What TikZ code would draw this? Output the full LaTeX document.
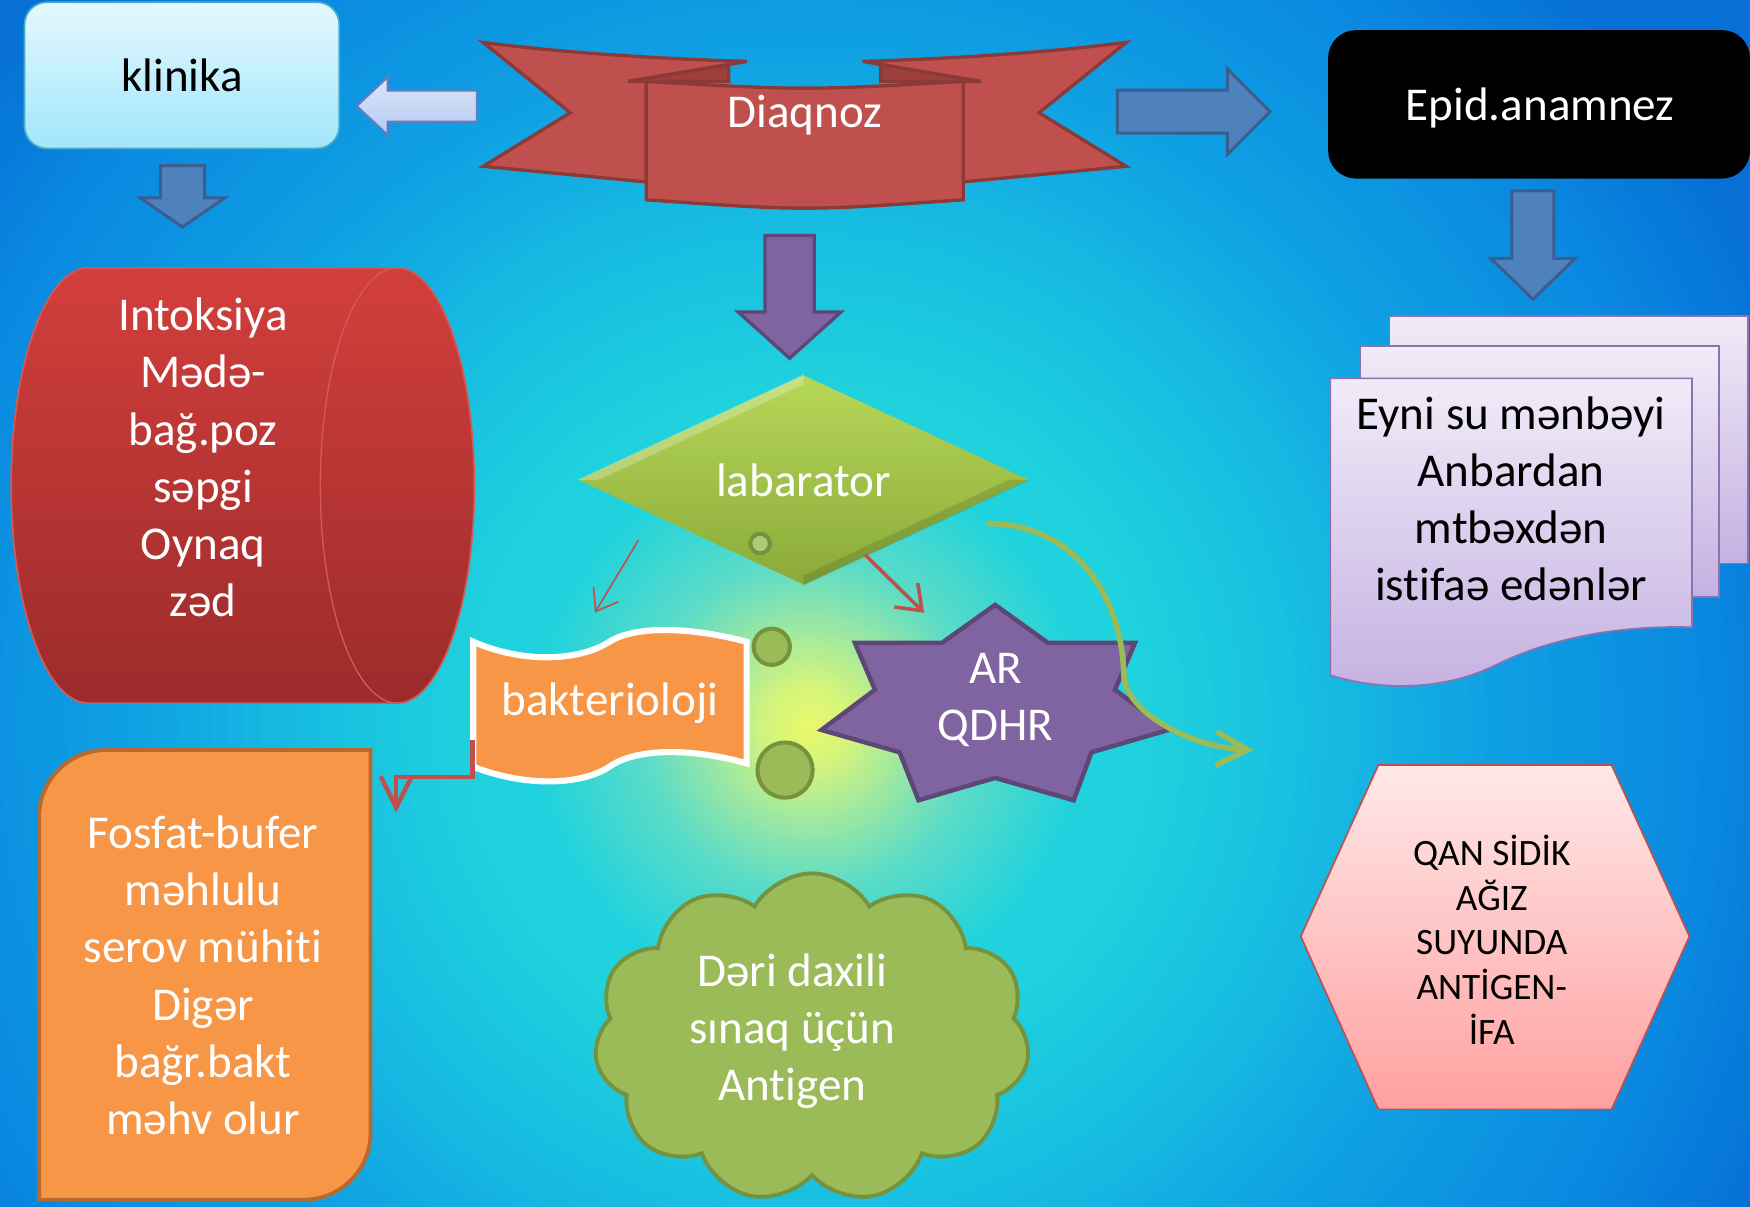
\documentclass[tikz,border=0pt]{standalone}
\usepackage{fontspec}
\setmainfont{Carlito}[Ligatures=NoCommon]
\usetikzlibrary{shapes.geometric,shapes.arrows,shapes.symbols,arrows.meta}

\definecolor{glowA}{HTML}{ECF86A}
\definecolor{glowB}{HTML}{D3F47C}
\definecolor{glowC}{HTML}{A2E99E}
\definecolor{glowD}{HTML}{5CDCC6}
\definecolor{bgCyan}{HTML}{20D2DD}
\definecolor{bgCyanB}{HTML}{18BEE1}
\definecolor{bgBlue}{HTML}{0FA0E3}
\definecolor{bgBlueB}{HTML}{0A8AE0}
\definecolor{bgDeep}{HTML}{0670D6}
\definecolor{klinikaTop}{HTML}{E4F8FE}
\definecolor{klinikaBot}{HTML}{A2E6FB}
\definecolor{klinikaLine}{HTML}{4BACC6}
\definecolor{arrowBlue}{HTML}{4F81BD}
\definecolor{arrowLine}{HTML}{3A5F8E}
\definecolor{lightTop}{HTML}{DCE6FA}
\definecolor{lightBot}{HTML}{B6C9F2}
\definecolor{lightLine}{HTML}{5B7FC4}
\definecolor{bannerRed}{HTML}{C0504D}
\definecolor{bannerLine}{HTML}{8C3A38}
\definecolor{bannerFold}{HTML}{9E3F3C}
\definecolor{violet}{HTML}{8064A2}
\definecolor{violetLine}{HTML}{5C4776}
\definecolor{cylTop}{HTML}{D23F3C}
\definecolor{cylBot}{HTML}{9C2B2B}
\definecolor{cylLine}{HTML}{D45A57}
\definecolor{orangeFill}{HTML}{F79646}
\definecolor{orangeLine}{HTML}{B7692E}
\definecolor{leafGreen}{HTML}{9BBB59}
\definecolor{leafLine}{HTML}{76923C}
\definecolor{diaTop}{HTML}{B6D858}
\definecolor{diaBot}{HTML}{8BAA3A}
\definecolor{docTop}{HTML}{F0EBF8}
\definecolor{docBot}{HTML}{C5B1E2}
\definecolor{docLine}{HTML}{8E72B0}
\definecolor{hexTop}{HTML}{FFE8E8}
\definecolor{hexBot}{HTML}{FFA0A0}
\definecolor{redLine}{HTML}{C0504D}

\newcommand{\mainsize}{\fontsize{12pt}{14.6pt}\selectfont}
\newcommand{\hexsize}{\fontsize{9.5pt}{11.4pt}\selectfont}

\tikzstyle{whitetext} = [text=white, align=center, inner sep=0pt, font=\mainsize]
\tikzstyle{blacktext} = [text=black, align=center, inner sep=0pt, font=\mainsize]
\tikzstyle{roundbox} = [
        rectangle,
        rounded corners=2.5mm,
        inner sep=0pt,
        align=center,
        font=\mainsize
    ]
\tikzstyle{blockarrow} = [
        single arrow,
        anchor=tip,
        inner xsep=0pt,
        inner ysep=0pt,
        text height=0pt,
        text depth=0pt,
        line width=0.27mm,
        draw=arrowLine,
        fill=arrowBlue
    ]
\tikzstyle{greendot} = [circle, inner sep=0pt, fill=leafGreen, draw=leafLine, line width=0.36mm]
\tikzstyle{thinarrow} = [draw=redLine, line width=0.15mm, -{Straight Barb[length=1.8mm, width=2.6mm]}]
\tikzstyle{redarrow} = [draw=redLine, line width=0.32mm, -{Straight Barb[length=2mm, width=3mm]}]
\tikzstyle{elbowarrow} = [draw=redLine, line width=0.4mm, -{Straight Barb[length=2.8mm, width=2.8mm]}]
\tikzstyle{greenarrow} = [draw=leafGreen, line width=0.5mm, -{Straight Barb[length=2.8mm, width=3mm]}]

\begin{document}
\begin{tikzpicture}[x=0.1mm, y=-0.1mm]

    \useasboundingbox (0,0) rectangle (1568,1081);
    % background: blue edges, cyan middle, yellow glow
    \begin{scope}
        \clip (0,0) rectangle (1568,1081);
        \foreach \ra/\rb/\ca/\cb in {1400/950/bgDeep/bgDeep, 950/800/bgDeep/bgBlueB, 800/620/bgBlueB/bgBlue, 620/450/bgBlue/bgCyanB, 450/300/bgCyanB/bgCyan, 300/250/bgCyan/bgCyan, 250/150/bgCyan/glowD, 150/85/glowD/glowC, 85/40/glowC/glowB, 40/0/glowB/glowA}{
            \foreach \k in {0,...,11}{
                \pgfmathsetmacro{\rr}{\ra-(\ra-\rb)*\k/12}
                \pgfmathtruncatemacro{\pp}{100*\k/12}
                \fill [\cb!\pp!\ca] (725,650) circle (\rr);
            }
        }
    \end{scope}

    % top row
    \node [roundbox, rounded corners=2mm, top color=klinikaTop, bottom color=klinikaBot, draw=klinikaLine, line width=0.15mm, minimum width=2.82cm, minimum height=1.31cm] (klinika) at (163,67.5) {klinika};
    \node [roundbox, fill=black, text=white, minimum width=3.78cm, minimum height=1.33cm] (epid) at (1379,93.5) {};
    \node [whitetext] (epidText) at (1380,97) {Epid.anamnez};

    \path [fill=bannerRed, draw=bannerLine, line width=0.3mm] (433,38) .. controls (510,48) and (600,53) .. (669,55) -- (563,73) -- (579,73) -- (579,163) -- (433,149) -- (511,101) -- cycle;
    \path [fill=bannerRed, draw=bannerLine, line width=0.3mm] (1009,38) .. controls (932,48) and (842,53) .. (773,55) -- (879,73) -- (863,73) -- (863,163) -- (1009,149) -- (931,101) -- cycle;
    \path [fill=bannerFold, draw=bannerLine, line width=0.3mm] (563,73) -- (653,58) -- (653,73) -- cycle;
    \path [fill=bannerFold, draw=bannerLine, line width=0.3mm] (879,73) -- (789,58) -- (789,73) -- cycle;
    \path [fill=bannerRed, draw=bannerLine, line width=0.3mm] (579,73) .. controls (721,81) .. (863,73) -- (863,179) .. controls (721,189) .. (579,179) -- cycle;
    \node [whitetext] (diaqnoz) at (721,103) {Diaqnoz};

    \node [blockarrow, top color=lightTop, bottom color=lightBot, draw=lightLine, line width=0.2mm, shape border rotate=180, minimum height=1.08cm, inner ysep=1.3mm, single arrow head extend=1.2mm, single arrow tip angle=86] (toKlinika) at (318,95) {};
    \node [blockarrow, shape border rotate=0, minimum height=1.37cm, inner ysep=1.8mm, single arrow head extend=1.9mm, single arrow tip angle=90] (toEpid) at (1140,100) {};
    \node [blockarrow, shape border rotate=270, minimum height=0.55cm, inner xsep=1.85mm, single arrow head extend=1.8mm, single arrow tip angle=111] (klinikaDown) at (163.5,205) {};
    \node [blockarrow, shape border rotate=270, minimum height=0.97cm, inner xsep=1.75mm, single arrow head extend=1.9mm, single arrow tip angle=92] (epidDown) at (1373.5,270) {};
    \node [blockarrow, fill=violet, draw=violetLine, line width=0.3mm, shape border rotate=270, minimum height=1.10cm, inner xsep=2.05mm, single arrow head extend=2.4mm, single arrow tip angle=96] (diaqnozDown) at (707.5,323) {};

    % left column
    \path [top color=cylTop, bottom color=cylBot, draw=cylLine, line width=0.15mm] (79,240) -- (356,240) arc [start angle=-90, end angle=90, x radius=69, y radius=195] -- (79,630) arc [start angle=90, end angle=270, x radius=69, y radius=195] -- cycle;
    \draw [cylLine, line width=0.12mm] (356,240) arc [start angle=270, end angle=90, x radius=69, y radius=195];
    \node [whitetext] (intox) at (182,410) {Intoksiya\\Mədə-\\bağ.poz\\səpgi\\Oynaq\\zəd};

    \path [fill=orangeFill, draw=orangeLine, line width=0.35mm] (35,1075) -- (35,732) arc [start angle=180, end angle=270, radius=60] -- (332,672) -- (332,1015) arc [start angle=0, end angle=90, radius=60] -- cycle;
    \node [whitetext] (fosfat) at (182,874) {Fosfat-bufer\\məhlulu\\serov mühiti\\Digər\\bağr.bakt\\məhv olur};

    % middle column
    \node [diamond, aspect=2, inner sep=0pt, minimum width=4.04cm, minimum height=1.88cm, top color=diaTop, bottom color=diaBot, text=white, font=\mainsize] (lab) at (720,430) {labarator};
    \path [fill=white, opacity=0.25] (lab.west) -- (lab.north) -- ([yshift=-0.9mm]lab.north) -- ([xshift=1.9mm]lab.west) -- cycle;
    \path [fill=black, opacity=0.12] (lab.east) -- (lab.south) -- ([yshift=0.9mm]lab.south) -- ([xshift=-1.9mm]lab.east) -- cycle;
    \node [greendot, fill=leafGreen!80!white, minimum size=1.75mm] (ring) at (681,487) {};

    \path [fill=orangeFill, draw=white, line width=0.55mm] (424,575) .. controls (470,595) and (520,592) .. (546,575) .. controls (570,560) and (620,562) .. (669,575) -- (669,684) .. controls (620,670) and (570,670) .. (546,687) .. controls (520,704) and (470,705) .. (424,687) -- cycle;
    \node [whitetext, minimum width=2.45cm, minimum height=1.12cm] (bakt) at (546.5,630) {bakterioloji};

    \node [greendot, minimum size=3.25mm] (dotSmall) at (691.5,579.5) {};
    \node [greendot, minimum size=4.95mm] (dotBig) at (703.4,690) {};

    \path [fill=violet, draw=violetLine, line width=0.4mm] (891.6,542) -- (939,576) -- (1017,576) -- (999,618) -- (1047,654) -- (978,674) -- (962,717) -- (891.6,697) -- (823,717) -- (806,674) -- (736,654) -- (784,618) -- (766,576) -- (844,576) -- cycle;
    \node [whitetext] (ar) at (892,627) {AR\\QDHR};

    \node [cloud, cloud puffs=11, cloud puff arc=120, aspect=1.3, inner sep=0pt, minimum width=3.9cm, minimum height=2.95cm, fill=leafGreen, draw=leafLine, line width=0.35mm] (cloud) at (727.5,930) {};
    \node [whitetext] (antigen) at (710,924) {Dəri daxili\\sınaq üçün\\Antigen};

    % right column
    \path [top color=docTop, bottom color=docBot, draw=docLine, line width=0.15mm] (1245,283) rectangle (1566,505);
    \path [top color=docTop, bottom color=docBot, draw=docLine, line width=0.15mm] (1219,310) rectangle (1540,535);
    \path [top color=docTop, bottom color=docBot, draw=docLine, line width=0.15mm] (1192,339) -- (1516,339) -- (1516,562) .. controls (1450,560) and (1390,572) .. (1344,594) .. controls (1290,622) and (1230,617) .. (1192,605) -- cycle;
    \node [blacktext] (eyni) at (1354,447) {Eyni su mənbəyi\\Anbardan\\mtbəxdən\\istifaə edənlər};

    \path [top color=hexTop, bottom color=hexBot, draw=redLine, line width=0.15mm] (1235,685.5) -- (1444,685.5) -- (1513.7,839) -- (1444,994) -- (1235,994) -- (1165.5,839) -- cycle;
    \node [blacktext, font=\hexsize] (qan) at (1336.6,842) {QAN SİDİK\\AĞIZ\\SUYUNDA\\ANTİGEN-\\İFA};

    % connectors
    \coordinate (labLeft) at (572,484);
    \coordinate (baktTop) at (533,549);
    \coordinate (labRight) at (775,497);
    \coordinate (starTop) at (828,549);
    \coordinate (curveStart) at (884,469);
    \coordinate (curveEnd) at (1123,672);
    \coordinate (elbowEnd) at (355,728);

    \draw [thinarrow] (labLeft) -- (baktTop);
    \draw [redarrow] (labRight) -- (starTop);
    \draw [elbowarrow] ([yshift=-3.3mm]bakt.west) -- ++(0,33) -| (elbowEnd);
    \draw [greenarrow] (curveStart) .. controls (960,469) and (1005,530) .. (1007,605) .. controls (1009,640) and (1070,670) .. (curveEnd);

\end{tikzpicture}
\end{document}
